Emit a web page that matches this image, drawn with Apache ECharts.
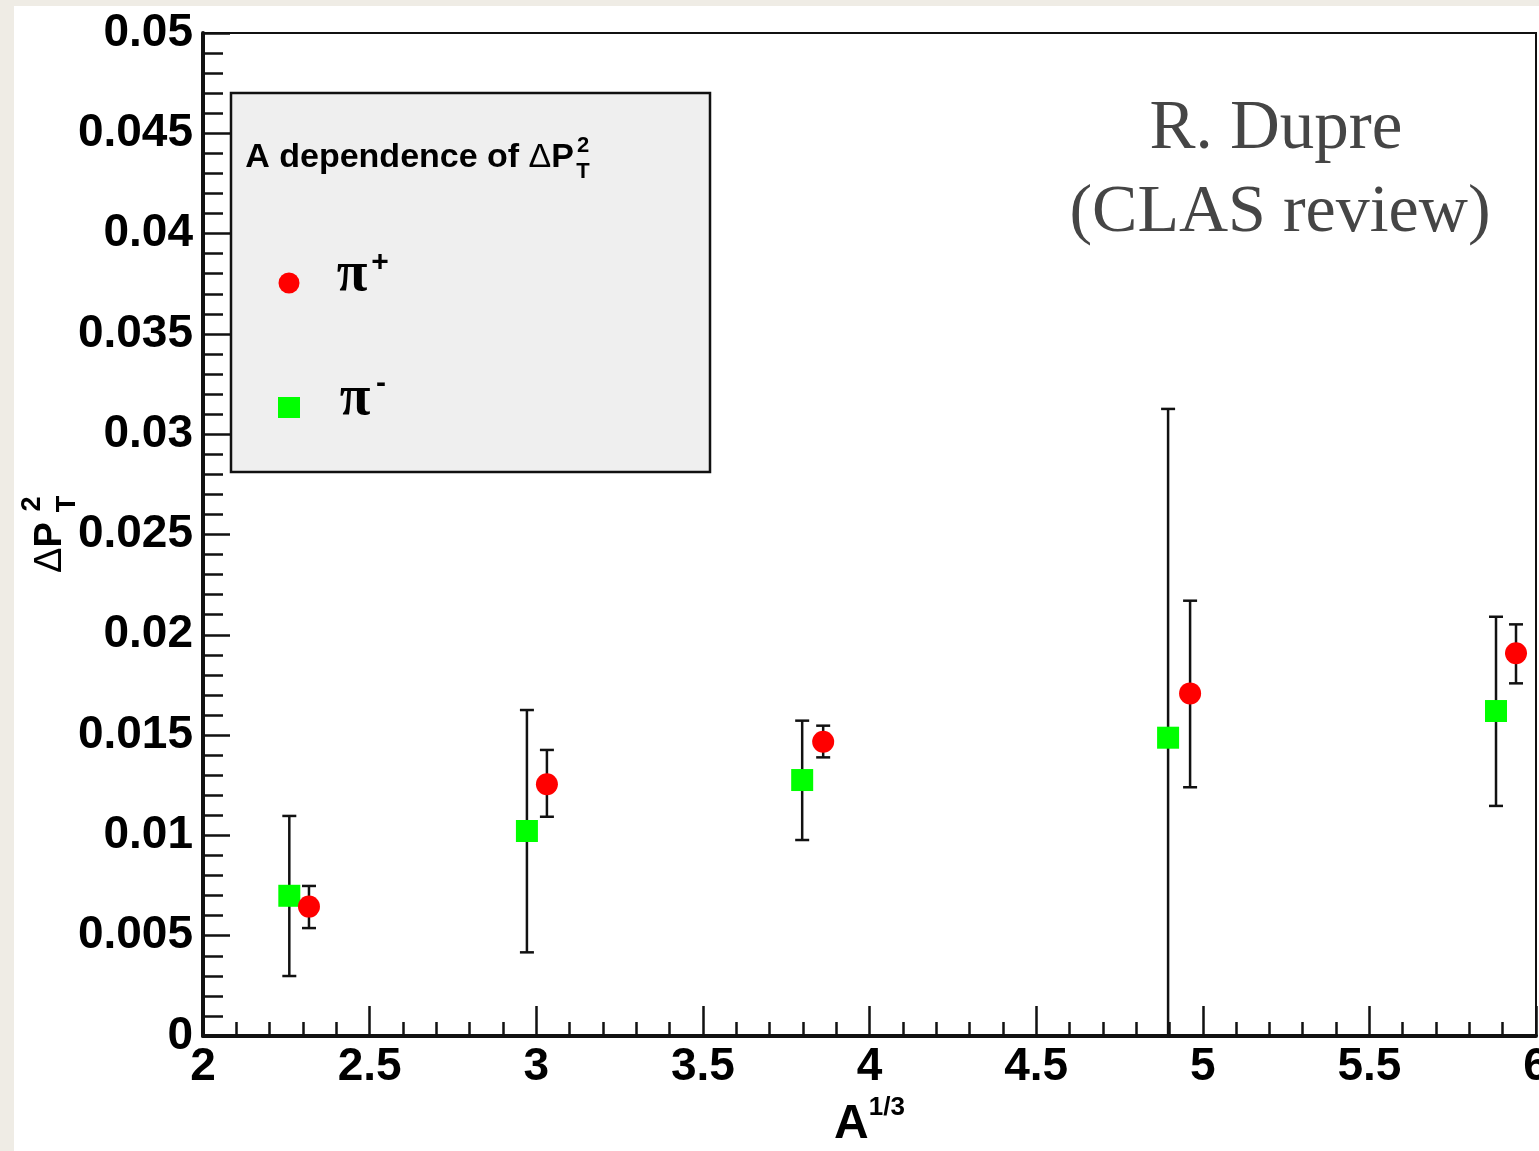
<!DOCTYPE html>
<html>
<head>
<meta charset="utf-8">
<script src="https://cdn.jsdelivr.net/npm/echarts@6/dist/echarts.min.js"></script>
<style>
html, body { margin: 0; padding: 0; }
body { background: #efece5; }
#main {
	position: absolute; left: 0; top: 0; width: 1539px; height: 1151px;
	background: linear-gradient(#fff, #fff) 14px 6px / 1525px 1145px no-repeat, #efece5;
}
</style>
</head>
<body>
<div id="main"></div>
<script>
var myChart = echarts.init(document.getElementById('main'));

// pi+ (red circles)
var piPlusX  = [2.318, 3.032, 3.861, 4.962, 5.940];
var piPlusY  = [0.00645, 0.01255, 0.01467, 0.01708, 0.01908];
var piPlusLo = [0.00538, 0.01093, 0.01389, 0.01240, 0.01758];
var piPlusHi = [0.00748, 0.01426, 0.01547, 0.02170, 0.02052];

// pi- (green squares)
var piMinusX  = [2.259, 2.972, 3.798, 4.896, 5.880];
var piMinusY  = [0.00699, 0.01022, 0.01276, 0.01487, 0.01620];
var piMinusLo = [0.00299, 0.00417, 0.00977, 0.00000, 0.01147];
var piMinusHi = [0.01097, 0.01625, 0.01572, 0.03126, 0.02090];

var font = '"Liberation Sans", Arial, Helvetica, sans-serif';
var serif = '"Liberation Serif", "Times New Roman", serif';

function points(xs, ys) {
	var out = [];
	for (var i = 0; i < xs.length; i++) out.push([xs[i], ys[i]]);
	return out;
}
function bars(xs, lo, hi) {
	var out = [];
	for (var i = 0; i < xs.length; i++) out.push([xs[i], lo[i], hi[i]]);
	return out;
}

function renderErr(params, api) {
	var x = api.value(0);
	var top = api.coord([x, api.value(2)]);
	var bot = api.coord([x, api.value(1)]);
	var w = 7;
	var st = { stroke: '#111', lineWidth: 2.5 };
	return {
		type: 'group',
		children: [
			{ type: 'line', shape: { x1: top[0], y1: top[1], x2: bot[0], y2: bot[1] }, style: st },
			{ type: 'line', shape: { x1: top[0] - w, y1: top[1], x2: top[0] + w, y2: top[1] }, style: st },
			{ type: 'line', shape: { x1: bot[0] - w, y1: bot[1], x2: bot[0] + w, y2: bot[1] }, style: st }
		]
	};
}

var option = {
	animation: false,
	grid: {
		left: 203, right: 3, top: 33, bottom: 115,
		outerBoundsMode: 'none', containLabel: false,
		show: true, borderColor: '#111', borderWidth: 2
	},
	xAxis: {
		type: 'value', min: 2, max: 6, interval: 0.5,
		name: '{a|A}{s|1/3}',
		nameLocation: 'middle', nameGap: 59,
		nameTextStyle: {
			rich: {
				a: { fontFamily: font, fontWeight: 'bold', fontSize: 48, lineHeight: 60, color: '#000' },
				s: { fontFamily: font, fontWeight: 'bold', fontSize: 26, lineHeight: 26, verticalAlign: 'top', color: '#000' }
			}
		},
		splitLine: { show: false },
		axisLine: { onZero: false, lineStyle: { color: '#111', width: 4 } },
		axisTick: { inside: true, length: 30, lineStyle: { color: '#111', width: 2.5 } },
		minorTick: { show: true, splitNumber: 5, length: 14, lineStyle: { color: '#111', width: 2.5 } },
		axisLabel: {
			margin: 8, color: '#000', fontFamily: font, fontWeight: 'bold', fontSize: 46,
			formatter: function (v) { return String(+v.toFixed(1)); }
		}
	},
	yAxis: {
		type: 'value', min: 0, max: 0.05, interval: 0.005,
		splitLine: { show: false },
		axisLine: { onZero: false, lineStyle: { color: '#111', width: 4 } },
		axisTick: { inside: true, length: 27, lineStyle: { color: '#111', width: 2.5 } },
		minorTick: { show: true, splitNumber: 5, length: 20, lineStyle: { color: '#111', width: 2.5 } },
		axisLabel: {
			margin: 10, color: '#000', fontFamily: font, fontWeight: 'bold', fontSize: 46,
			formatter: function (v) { return String(+v.toFixed(3)); }
		}
	},
	graphic: [
		// y axis title
		{
			type: 'group', x: 50, y: 532, rotation: Math.PI / 2,
			children: [
				{ type: 'text', x: -41, y: 1, style: {
					text: '{d|Δ}{p|P}', textAlign: 'left', textVerticalAlign: 'middle',
					rich: {
						d: { fontFamily: font, fontSize: 38, fill: '#000' },
						p: { fontFamily: font, fontWeight: 'bold', fontSize: 38, fill: '#000' }
					}
				} },
				{ type: 'text', x: 28, y: -17, style: { text: '2', font: 'bold 27px ' + font, fill: '#000', textAlign: 'center', textVerticalAlign: 'middle' } },
				{ type: 'text', x: 28, y: 18, style: { text: 'T', font: 'bold 27px ' + font, fill: '#000', textAlign: 'center', textVerticalAlign: 'middle' } }
			]
		},
		// legend box
		{
			type: 'rect', shape: { x: 231, y: 93, width: 479, height: 379 },
			style: { fill: '#efefef', stroke: '#111', lineWidth: 2.5 }, z: 10
		},
		{ type: 'text', x: 574, y: 158, z: 11, style: {
			text: '{b|A dependence of }{d|Δ}{b|P}', textAlign: 'right', textVerticalAlign: 'middle',
			rich: {
				b: { fontFamily: font, fontWeight: 'bold', fontSize: 34, fill: '#000' },
				d: { fontFamily: font, fontSize: 34, fill: '#000' }
			}
		} },
		{ type: 'text', x: 583, y: 146, z: 11, style: { text: '2', font: 'bold 22px ' + font, fill: '#000', textAlign: 'center', textVerticalAlign: 'middle' } },
		{ type: 'text', x: 583, y: 172, z: 11, style: { text: 'T', font: 'bold 22px ' + font, fill: '#000', textAlign: 'center', textVerticalAlign: 'middle' } },
		{ type: 'circle', z: 11, shape: { cx: 289, cy: 283, r: 10.5 }, style: { fill: '#ff0000' } },
		{ type: 'text', x: 352, y: 276, z: 11, style: { text: 'π', font: 'bold 56px ' + serif, fill: '#000', textAlign: 'center', textVerticalAlign: 'middle' } },
		{ type: 'text', x: 380, y: 263, z: 11, style: { text: '+', font: 'bold 30px ' + font, fill: '#000', textAlign: 'center', textVerticalAlign: 'middle' } },
		{ type: 'rect', z: 11, shape: { x: 278, y: 397, width: 22, height: 21 }, style: { fill: '#00ff00' } },
		{ type: 'text', x: 355, y: 400, z: 11, style: { text: 'π', font: 'bold 56px ' + serif, fill: '#000', textAlign: 'center', textVerticalAlign: 'middle' } },
		{ type: 'text', x: 381, y: 384, z: 11, style: { text: '-', font: 'bold 30px ' + font, fill: '#000', textAlign: 'center', textVerticalAlign: 'middle' } },
		// annotation
		{ type: 'text', x: 1276, y: 130, z: 11, style: { text: 'R. Dupre', font: '69px ' + serif, fill: '#454545', textAlign: 'center', textVerticalAlign: 'middle' } },
		{ type: 'text', x: 1280, y: 213, z: 11, style: { text: '(CLAS review)', font: '68px ' + serif, fill: '#454545', textAlign: 'center', textVerticalAlign: 'middle' } }
	],
	series: [
		{
			name: 'π- err', type: 'custom', renderItem: renderErr,
			encode: { x: 0, y: [1, 2] }, data: bars(piMinusX, piMinusLo, piMinusHi), z: 2
		},
		{
			name: 'π+ err', type: 'custom', renderItem: renderErr,
			encode: { x: 0, y: [1, 2] }, data: bars(piPlusX, piPlusLo, piPlusHi), z: 2
		},
		{
			name: 'π-', type: 'scatter', symbol: 'rect', symbolSize: 22,
			itemStyle: { color: '#00ff00', opacity: 1 }, data: points(piMinusX, piMinusY), z: 3
		},
		{
			name: 'π+', type: 'scatter', symbol: 'circle', symbolSize: 22,
			itemStyle: { color: '#ff0000', opacity: 1 }, data: points(piPlusX, piPlusY), z: 4
		}
	]
};

myChart.setOption(option);
</script>
</body>
</html>
